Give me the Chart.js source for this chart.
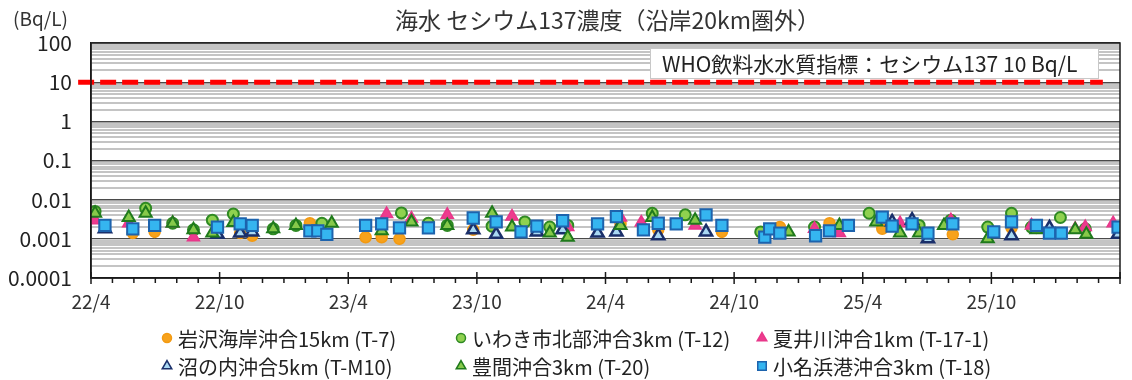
<!DOCTYPE html>
<html>
<head>
<meta charset="utf-8">
<script src="https://cdn.jsdelivr.net/npm/chart.js@4"></script>
<style>
  html, body { margin: 0; padding: 0; background: #fff; }
  canvas { display: block; }
</style>
</head>
<body>
<canvas id="cs137" width="1132" height="380"></canvas>
<script>
// x = months after 2022/4, y = Bq/L
var xTickLabels = ['22/4', '22/10', '23/4', '23/10', '24/4', '24/10', '25/4', '25/10'];
var yTicks = [0.0001, 0.001, 0.01, 0.1, 1, 10, 100];
var yTickLabels = ['0.0001', '0.001', '0.01', '0.1', '1', '10', '100'];
var whoLimit = 10;

var t7 = [[1.95, 0.0014], [2.97, 0.0015], [6.96, 0.0014], [7.52, 0.0012], [10.21, 0.0025], [12.81, 0.0011],
  [13.56, 0.0011], [14.39, 0.001], [15.74, 0.0025], [17.83, 0.0017], [24.7, 0.0024], [26.46, 0.0017],
  [29.43, 0.0015], [32.13, 0.002], [34.45, 0.0025], [36.91, 0.0018], [40.2, 0.0013], [42.94, 0.0019], [44.1, 0.0019]];
var t12 = [[0.19, 0.005], [2.55, 0.006], [3.81, 0.0025], [4.78, 0.0017], [5.66, 0.003], [6.64, 0.0043],
  [8.5, 0.0018], [9.56, 0.0022], [10.77, 0.0025], [14.48, 0.0046], [15.74, 0.0025], [16.62, 0.0022],
  [18.71, 0.0021], [20.24, 0.0027], [21.4, 0.002], [22.24, 0.0022], [26.18, 0.0045], [27.72, 0.0041],
  [31.24, 0.0015], [33.75, 0.002], [36.3, 0.0045], [38.63, 0.0022], [40.11, 0.003], [41.83, 0.002],
  [42.94, 0.0045], [43.87, 0.002], [45.22, 0.0035], [46.38, 0.0018]];
var t17 = [[0.19, 0.003], [1.76, 0.0025], [3.81, 0.0025], [4.78, 0.0011], [13.79, 0.0043], [14.95, 0.0033],
  [16.62, 0.0041], [19.64, 0.0037], [22.24, 0.002], [24.7, 0.0035], [25.67, 0.0026], [28.18, 0.0022],
  [33.75, 0.0018], [34.91, 0.0014], [37.74, 0.0025], [40.11, 0.003], [43.87, 0.0022], [45.91, 0.0018],
  [46.38, 0.002], [47.68, 0.0025]];
var tM10 = [[0.65, 0.0018], [5.9, 0.0013], [6.96, 0.0014], [7.52, 0.0015], [17.83, 0.0017], [18.9, 0.0013],
  [20.8, 0.0015], [22.0, 0.0017], [23.63, 0.0014], [24.51, 0.0015], [26.46, 0.0012], [28.69, 0.0015],
  [37.37, 0.0027], [38.3, 0.003], [39.04, 0.001], [42.94, 0.0012], [44.71, 0.0019], [47.91, 0.0013]];
var t20 = [[0.19, 0.0045], [1.76, 0.0035], [2.55, 0.0045], [3.81, 0.0025], [4.78, 0.0017], [5.66, 0.0014],
  [6.64, 0.0026], [8.5, 0.0018], [9.56, 0.0022], [11.23, 0.0025], [13.56, 0.0016], [14.95, 0.0027],
  [16.62, 0.0022], [18.71, 0.0045], [19.64, 0.002], [21.4, 0.0014], [22.24, 0.0011], [24.7, 0.0022],
  [26.18, 0.0035], [28.18, 0.003], [32.54, 0.0015], [34.91, 0.0022], [36.63, 0.0027], [37.74, 0.0014],
  [38.63, 0.0014], [39.79, 0.0022], [41.83, 0.001], [44.1, 0.0017], [45.91, 0.0017], [46.43, 0.0013]];
var t18 = [[0.65, 0.0022], [1.95, 0.0018], [2.97, 0.0022], [5.9, 0.002], [6.96, 0.0024], [7.52, 0.0022],
  [10.21, 0.0016], [10.58, 0.0016], [11.0, 0.0013], [12.81, 0.0022], [13.56, 0.0024], [14.39, 0.0019],
  [15.74, 0.0019], [17.83, 0.0034], [18.9, 0.0027], [20.06, 0.0015], [20.8, 0.0021], [22.0, 0.0029],
  [23.63, 0.0024], [24.51, 0.0037], [25.77, 0.0017], [26.46, 0.0025], [27.3, 0.0024], [28.69, 0.0041],
  [29.43, 0.0022], [31.43, 0.0011], [31.66, 0.0018], [32.13, 0.0014], [33.8, 0.0012], [34.45, 0.0016],
  [35.33, 0.0022], [36.91, 0.0036], [37.37, 0.0021], [38.3, 0.0024], [39.04, 0.0014], [40.2, 0.0024],
  [42.11, 0.0015], [42.94, 0.0027], [44.1, 0.0022], [44.71, 0.0014], [45.26, 0.0014], [47.91, 0.002]];

var FONT = '"Noto Sans CJK JP", "Noto Sans", sans-serif';

function pts(arr) {
  return arr.map(function (p) { return { x: p[0], y: p[1] }; });
}

function isDecade(v) {
  var l = Math.log10(v);
  return Math.abs(l - Math.round(l)) < 1e-9;
}

function series(label, arr, style, radius, fill, border, bw, order) {
  return {
    type: 'scatter',
    label: label,
    data: pts(arr),
    pointStyle: style,
    pointRadius: radius,
    pointHoverRadius: radius,
    backgroundColor: fill,
    borderColor: border,
    pointBorderWidth: bw,
    order: order
  };
}

var datasets = [
  series('岩沢海岸沖合15km (T-7)', t7, 'circle', 5.5, '#f7a21c', '#f39a12', 1.5, 6),
  series('いわき市北部沖合3km (T-12)', t12, 'circle', 5.5, '#8fd14f', '#2f8a23', 2, 5),
  series('夏井川沖合1km (T-17-1)', t17, 'triangle', 7, '#ee3b8e', '#e8378a', 1.5, 4),
  series('沼の内沖合5km (T-M10)', tM10, 'triangle', 7, '#a9d8f3', '#1a2f6a', 2.5, 3),
  series('豊間沖合3km (T-20)', t20, 'triangle', 7, '#86c94a', '#1f7a1c', 2, 2),
  series('小名浜港沖合3km (T-18)', t18, 'rect', 8, '#35b5f0', '#1d63ad', 2, 1),
  {
    type: 'line',
    label: 'WHO',
    data: [{ x: -0.6, y: whoLimit }, { x: 47.2, y: whoLimit }],
    borderColor: '#ff0000',
    borderWidth: 5,
    borderDash: [16, 6],
    pointRadius: 0,
    clip: false,
    order: 0
  }
];

var decor = {
  id: 'decor',
  beforeDraw: function (chart) {
    var ctx = chart.ctx;
    ctx.save();
    ctx.fillStyle = '#fff';
    ctx.fillRect(0, 0, chart.width, chart.height);
    ctx.restore();
  },
  afterDraw: function (chart) {
    var ctx = chart.ctx, a = chart.chartArea, x = chart.scales.x;
    ctx.save();

    // frame
    ctx.strokeStyle = '#1a1a1a';
    ctx.lineWidth = 1.5;
    ctx.strokeRect(a.left, a.top, a.right - a.left, a.bottom - a.top);

    // monthly ticks
    x.ticks.forEach(function (t) {
      var px = x.getPixelForValue(t.value);
      var major = t.value % 6 === 0;
      ctx.beginPath();
      ctx.moveTo(px, major ? a.bottom - 6 : a.bottom);
      ctx.lineTo(px, a.bottom + (major ? 6 : 5));
      ctx.stroke();
    });

    // title and unit
    ctx.fillStyle = '#333';
    ctx.textBaseline = 'middle';
    ctx.textAlign = 'center';
    ctx.font = '23px ' + FONT;
    ctx.fillText('海水 セシウム137濃度（沿岸20km圏外）', (a.left + a.right) / 2 + 2, 20);
    ctx.textAlign = 'left';
    ctx.font = '19px ' + FONT;
    ctx.fillText('(Bq/L)', 13, 19);

    // WHO guideline box
    var bw = 448, bh = 30, bx = a.right - 22 - bw, by = a.top + 5;
    ctx.fillStyle = '#fff';
    ctx.fillRect(bx, by, bw, bh);
    ctx.strokeStyle = '#c8c8c8';
    ctx.lineWidth = 1;
    ctx.strokeRect(bx + 0.5, by + 0.5, bw, bh);
    ctx.fillStyle = '#222';
    ctx.font = '21px ' + FONT;
    ctx.fillText('WHO飲料水水質指標：セシウム137 10 Bq/L', bx + 12, by + bh / 2 + 1);

    // legend in 3 columns
    var colX = [167, 461, 762];
    var rowY = [338, 366];
    ctx.font = '20px ' + FONT;
    for (var i = 0; i < 6; i++) {
      var ds = chart.data.datasets[i];
      var cx = colX[i % 3], cy = rowY[Math.floor(i / 3)];
      ctx.fillStyle = ds.backgroundColor;
      ctx.strokeStyle = ds.borderColor;
      ctx.lineWidth = 1.5;
      var r = ds.pointStyle === 'rect' ? 6 : (ds.pointStyle === 'triangle' ? 5.5 : 4.5);
      Chart.helpers.drawPoint(ctx, { pointStyle: ds.pointStyle, rotation: 0, radius: r, borderWidth: 1.5 }, cx, cy);
      ctx.fillStyle = '#222';
      ctx.fillText(ds.label, cx + 11, cy + 1);
    }
    ctx.restore();
  }
};

var chart = new Chart(document.getElementById('cs137').getContext('2d'), {
  data: { datasets: datasets },
  options: {
    responsive: false,
    animation: false,
    layout: { padding: { top: 43, right: 7, bottom: 0, left: 0 } },
    plugins: { legend: { display: false }, title: { display: false }, tooltip: { enabled: false } },
    scales: {
      x: {
        type: 'linear',
        min: 0,
        max: 48,
        afterFit: function (s) { s.height = 102; },
        grid: { drawOnChartArea: false, drawTicks: false },
        border: { color: '#1a1a1a', width: 1.5 },
        ticks: {
          stepSize: 1,
          autoSkip: false,
          maxRotation: 0,
          padding: 12,
          color: '#333',
          font: { family: FONT, size: 19 },
          callback: function (v) {
            return v % 6 === 0 && xTickLabels[v / 6] ? xTickLabels[v / 6] : '';
          }
        }
      },
      y: {
        type: 'logarithmic',
        min: yTicks[0],
        max: yTicks[yTicks.length - 1],
        afterFit: function (s) { s.width = 91; },
        afterBuildTicks: function (s) {
          var list = [];
          for (var i = 0; i < yTicks.length - 1; i++) {
            for (var k = 1; k < 10; k++) list.push({ value: +(yTicks[i] * k).toPrecision(3) });
          }
          list.push({ value: yTicks[yTicks.length - 1] });
          s.ticks = list;
        },
        grid: {
          drawTicks: false,
          color: function (c) { return c.tick && isDecade(c.tick.value) ? '#4a4a4a' : '#c4c4c4'; },
          lineWidth: function (c) { return c.tick && isDecade(c.tick.value) ? 1.2 : 2; }
        },
        border: { color: '#1a1a1a', width: 1.5 },
        ticks: {
          autoSkip: false,
          padding: 19,
          color: '#222',
          font: { family: FONT, size: 21 },
          callback: function (v) {
            var idx = yTicks.findIndex(function (t) { return Math.abs(t - v) / t < 1e-6; });
            return idx >= 0 ? yTickLabels[idx] : '';
          }
        }
      }
    }
  },
  plugins: [decor]
});
</script>
</body>
</html>
